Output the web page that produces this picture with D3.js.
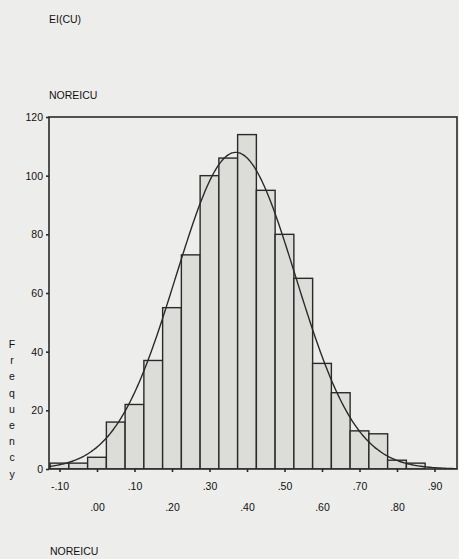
<!DOCTYPE html>
<html>
<head>
<meta charset="utf-8">
<script src="https://cdn.jsdelivr.net/npm/d3@7"></script>
<style>
	body { margin: 0; background: #ededeb; }
	svg { display: block; }
	.hist-text { font-family: "Liberation Sans", Arial, sans-serif; font-size: 10.5px; fill: #111; }
	.hist-bar { fill: #dcdcd8; stroke: #2a2a2a; stroke-width: 1.4; }
	.hist-curve { fill: none; stroke: #2a2a2a; stroke-width: 1.4; }
	.hist-frame { fill: none; stroke: #2a2a2a; stroke-width: 1.6; }
</style>
</head>
<body>
<svg id="chart" width="459" height="559"></svg>
<script>
'use strict';

// bin centres (width .05) and the counts
var arrayBinCenters = [-0.10, -0.05, 0.00, 0.05, 0.10, 0.15, 0.20, 0.25, 0.30, 0.35, 0.40,
	0.45, 0.50, 0.55, 0.60, 0.65, 0.70, 0.75, 0.80, 0.85, 0.90];
var arrayCounts = [2, 2, 4, 16, 22, 37, 55, 73, 100, 106, 114,
	95, 80, 65, 36, 26, 13, 12, 3, 2, 0];
var nBinWidth = 0.05;

// fitted normal curve stats
var nMean = 0.37;
var nStdDev = 0.16;
var nTotal = 866;

var arrayXTicks = [-0.10, 0.00, 0.10, 0.20, 0.30, 0.40, 0.50, 0.60, 0.70, 0.80, 0.90];
var arrayYTicks = [0, 20, 40, 60, 80, 100, 120];

var strTopTitle = 'EI(CU)';
var strVarName = 'NOREICU';
var strYLabel = 'Frequency';

function FormatTick(n)
{
	// SPSS style: no leading zero, plain hyphen for minus
	var str = Math.abs(n).toFixed(2).replace('0.', '.');
	return (n < 0 ? '-' : '') + str;
}

function DrawHistogram(selector)
{
	var svg = d3.select(selector);

	var nLeft = 49, nRight = 457, nTop = 117, nBottom = 469;

	var xScale = d3.scaleLinear()
		.domain([-0.128, 0.96])
		.range([nLeft, nRight]);

	var yScale = d3.scaleLinear()
		.domain([0, 120])
		.range([nBottom, nTop]);

	var arrayBins = arrayBinCenters.map(function(c, i) {
		return {x0: c - nBinWidth / 2, x1: c + nBinWidth / 2, n: arrayCounts[i]};
	});

	svg.append('clipPath').attr('id', 'plot-clip')
		.append('rect')
		.attr('x', nLeft).attr('y', nTop)
		.attr('width', nRight - nLeft).attr('height', nBottom - nTop);

	var plot = svg.append('g').attr('clip-path', 'url(#plot-clip)');

	plot.selectAll('rect.hist-bar')
		.data(arrayBins.filter(function(d) { return d.n > 0; }))
		.enter()
		.append('rect')
		.attr('class', 'hist-bar')
		.attr('x', function(d) { return xScale(d.x0); })
		.attr('width', function(d) { return xScale(d.x1) - xScale(d.x0); })
		.attr('y', function(d) { return yScale(d.n); })
		.attr('height', function(d) { return nBottom - yScale(d.n); });

	// normal curve scaled to counts per bin
	var nPeak = nTotal * nBinWidth / (nStdDev * Math.sqrt(2 * Math.PI));
	var arrayCurve = d3.range(xScale.domain()[0], xScale.domain()[1] + 0.002, 0.004).map(function(x) {
		var z = (x - nMean) / nStdDev;
		return [x, nPeak * Math.exp(-0.5 * z * z)];
	});

	plot.append('path')
		.datum(arrayCurve)
		.attr('class', 'hist-curve')
		.attr('d', d3.line()
			.x(function(d) { return xScale(d[0]); })
			.y(function(d) { return yScale(d[1]); })
			.curve(d3.curveBasis));

	svg.append('rect')
		.attr('class', 'hist-frame')
		.attr('x', nLeft).attr('y', nTop)
		.attr('width', nRight - nLeft).attr('height', nBottom - nTop);

	// y axis
	var yAxis = svg.append('g')
		.attr('transform', 'translate(' + nLeft + ',0)')
		.call(d3.axisLeft(yScale).tickValues(arrayYTicks).tickSize(3).tickPadding(3));
	yAxis.select('.domain').remove();
	yAxis.selectAll('line').attr('stroke', '#2a2a2a').attr('stroke-width', 1.6);
	yAxis.selectAll('text').attr('class', 'hist-text').attr('fill', null)
		.style('font-size', '10.5px');

	// x axis, labels staggered on two rows
	var xAxis = svg.append('g')
		.attr('transform', 'translate(0,' + nBottom + ')')
		.call(d3.axisBottom(xScale).tickValues(arrayXTicks).tickSize(3).tickFormat(FormatTick));
	xAxis.select('.domain').remove();
	xAxis.selectAll('line').attr('stroke', '#2a2a2a').attr('stroke-width', 1.6);
	xAxis.selectAll('text')
		.attr('class', 'hist-text').attr('fill', null)
		.attr('dy', null)
		.attr('y', function(d, i) { return i % 2 == 0 ? 21 : 42; });

	svg.append('text').attr('class', 'hist-text')
		.attr('x', 49).attr('y', 23).text(strTopTitle);
	svg.append('text').attr('class', 'hist-text')
		.attr('x', 49).attr('y', 99).text(strVarName);
	svg.append('text').attr('class', 'hist-text')
		.attr('x', 50).attr('y', 555).text(strVarName);

	svg.selectAll('text.y-letter')
		.data(strYLabel.split(''))
		.enter()
		.append('text')
		.attr('class', 'hist-text y-letter')
		.attr('text-anchor', 'middle')
		.attr('x', 12)
		.attr('y', function(d, i) { return 348 + i * 16.2; })
		.text(function(d) { return d; });
}

DrawHistogram('#chart');
</script>
</body>
</html>
